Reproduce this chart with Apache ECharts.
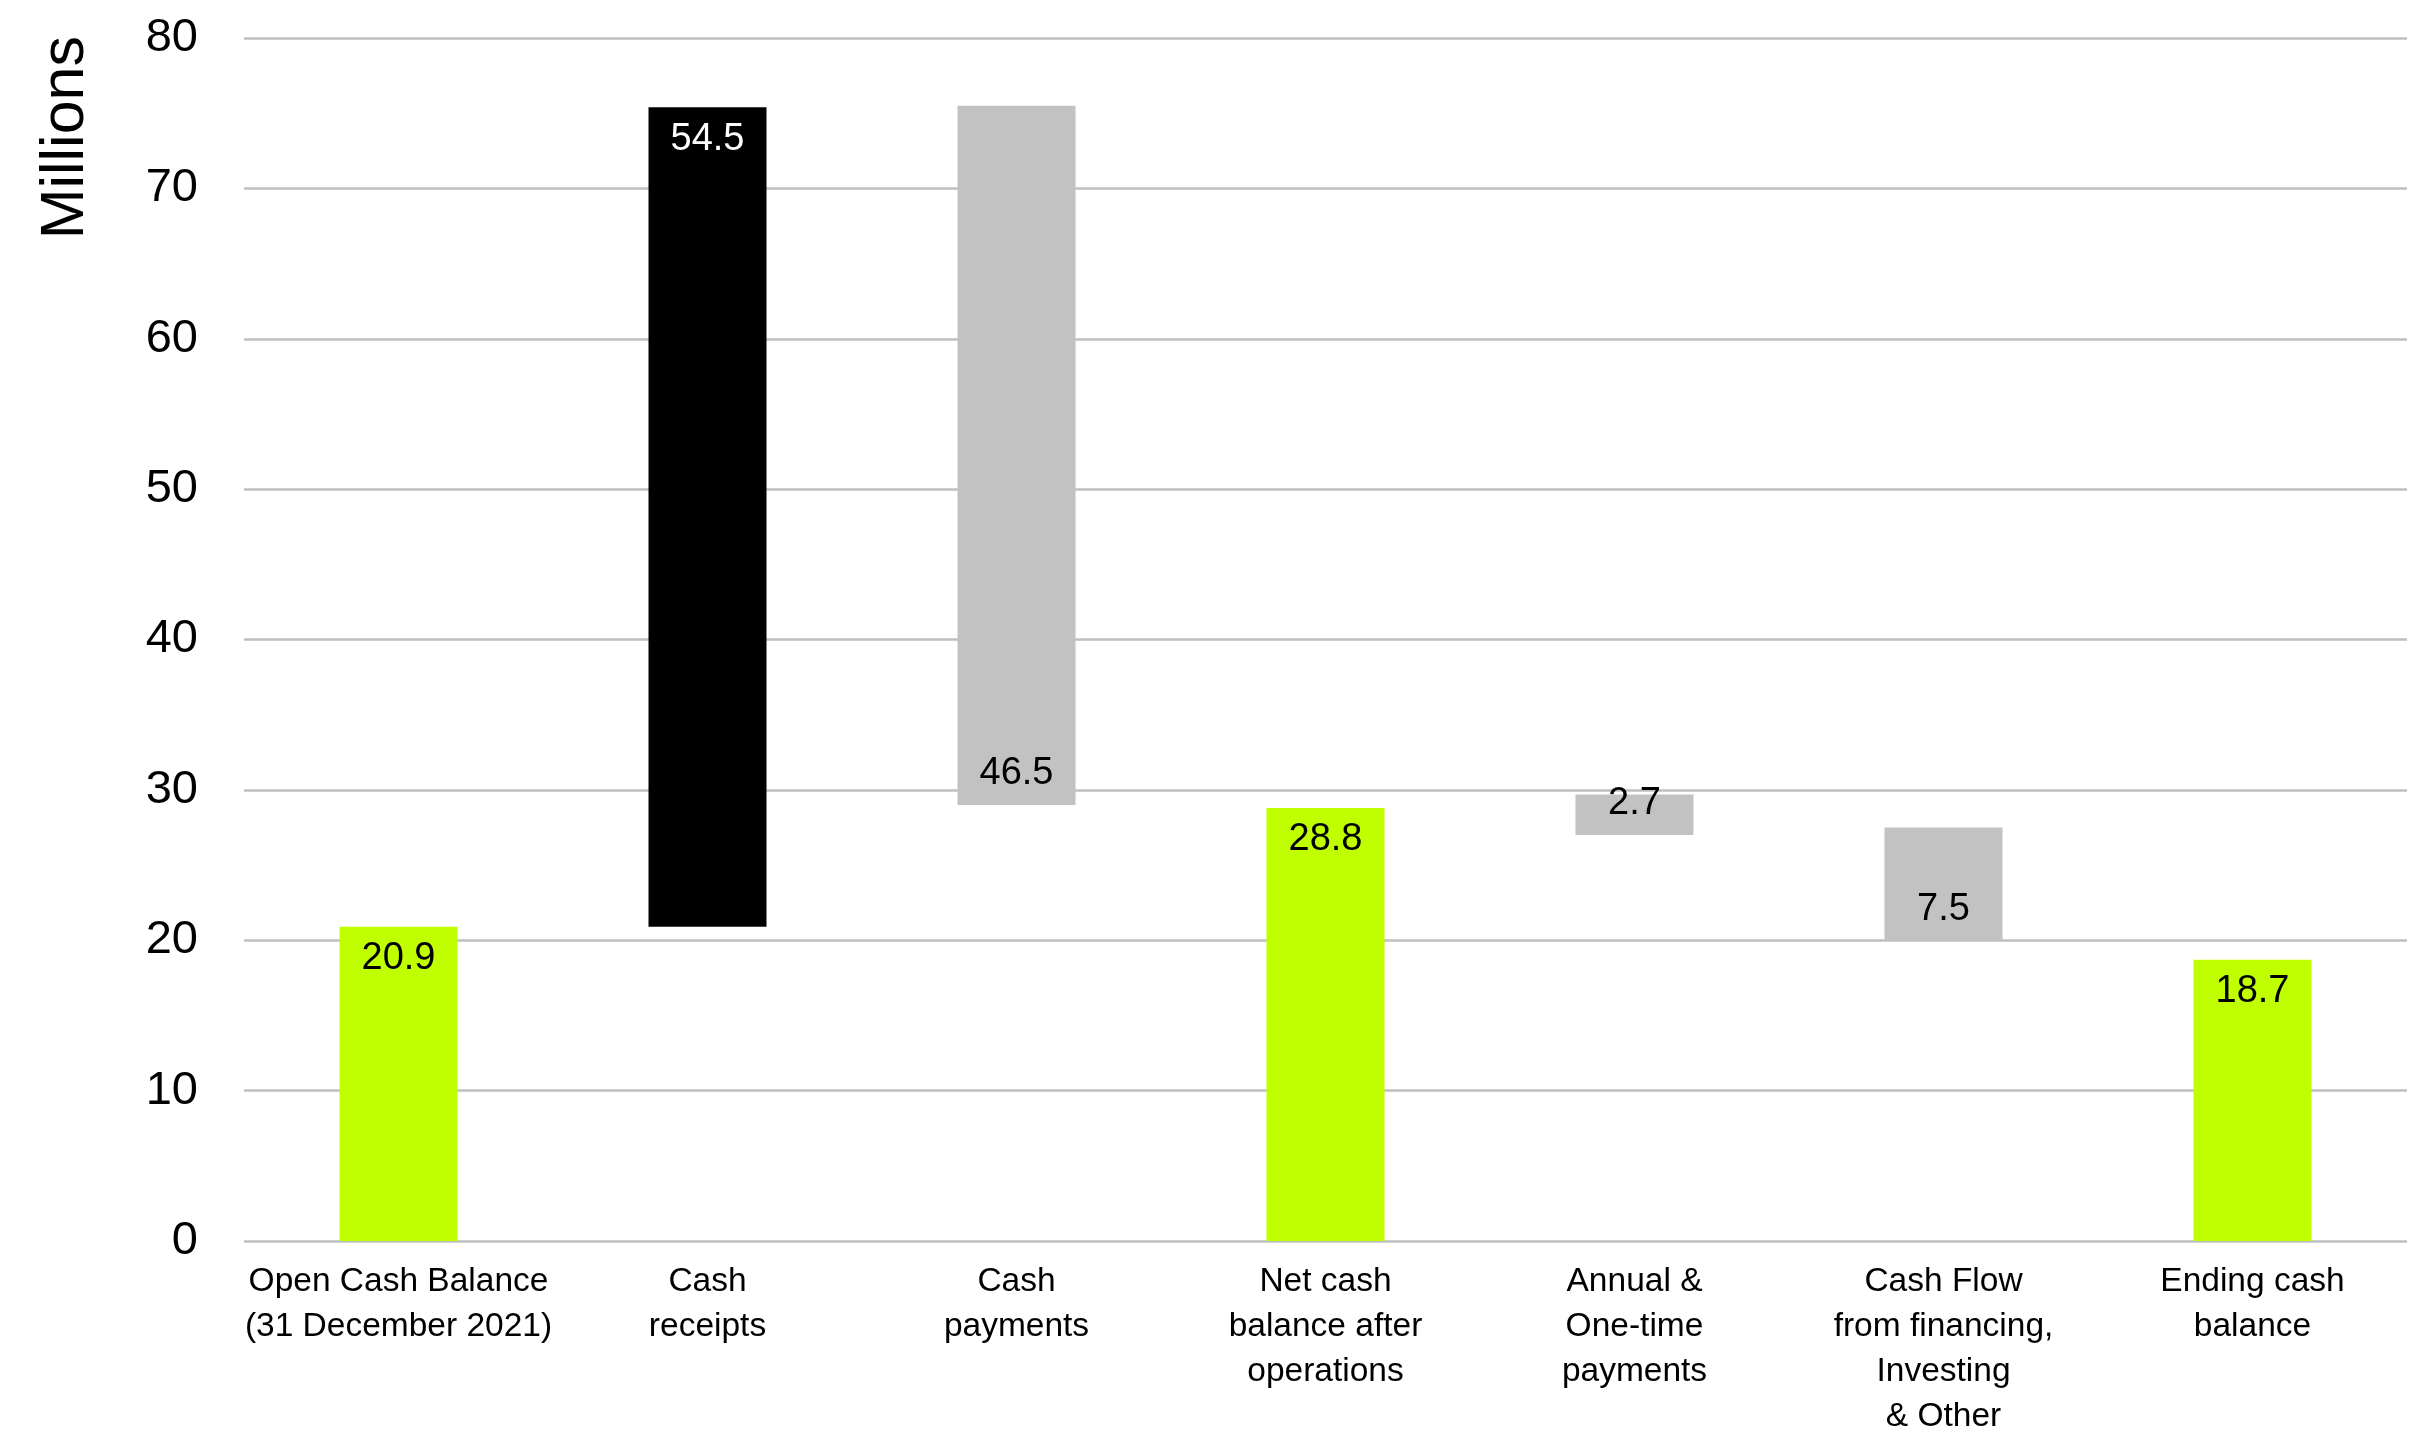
<!DOCTYPE html>
<html>
<head>
<meta charset="utf-8">
<title>Cash waterfall</title>
<script src="https://cdn.jsdelivr.net/npm/echarts/dist/echarts.min.js"></script>
<style>
  html, body { margin: 0; padding: 0; background: #fff; }
  #chart { width: 2423px; height: 1431px; }
</style>
</head>
<body>
<div id="chart"></div>
<script>
// values (millions)
const categories = [
  'Open Cash Balance\n(31 December 2021)',
  'Cash\nreceipts',
  'Cash\npayments',
  'Net cash\nbalance after\noperations',
  'Annual &\nOne-time\npayments',
  'Cash Flow\nfrom financing,\nInvesting\n& Other',
  'Ending cash\nbalance'
];
const barStart = [0, 20.9, 29.0, 0, 27.0, 20.0, 0];   // lower end of each bar
const barValue = [20.9, 54.5, 46.5, 28.8, 2.7, 7.5, 18.7];
const barKind = ['total', 'in', 'out', 'total', 'out', 'out', 'total'];
const yTicks = [0, 10, 20, 30, 40, 50, 60, 70, 80];

const FONT = "'Liberation Sans', Arial, sans-serif";
const colors = { total: '#bfff00', in: '#000000', out: '#c3c2c3' };

function labelFor(i) {
  const kind = barKind[i];
  if (kind === 'out') {
    // the small annual bar has its label riding on its top edge
    if (barValue[i] < 5) return { position: 'insideTop', distance: 0, offset: [0, -10] };
    return { position: 'insideBottom', distance: 12 };
  }
  return { position: 'insideTop', distance: 13, color: kind === 'in' ? '#fff' : '#000' };
}

const chart = echarts.init(document.getElementById('chart'));
chart.setOption({
  animation: false,
  grid: { left: 244, right: 16, top: 38, bottom: 190, containLabel: false, outerBoundsMode: 'none' },
  graphic: [{
    type: 'text',
    left: 36, top: 36,
    rotation: Math.PI / 2,
    style: { text: 'Millions', font: '61px ' + FONT, fill: '#000' }
  }],
  xAxis: {
    type: 'category',
    data: categories,
    axisLine: { show: false },
    axisTick: { show: false },
    axisLabel: {
      interval: 0, margin: 18, color: '#000',
      fontFamily: FONT, fontSize: 33.5, lineHeight: 45, align: 'center'
    }
  },
  yAxis: {
    type: 'value',
    min: yTicks[0], max: yTicks[yTicks.length - 1], interval: 10,
    axisLine: { show: false },
    axisTick: { show: false },
    axisLabel: { margin: 46, color: '#000', fontFamily: FONT, fontSize: 47 },
    splitLine: { lineStyle: { color: '#bfbfbf', width: 2.5 } }
  },
  series: [
    {
      type: 'bar', stack: 'wf', silent: true,
      barWidth: 118,
      itemStyle: { color: 'transparent' },
      data: barStart
    },
    {
      type: 'bar', stack: 'wf',
      barWidth: 118,
      data: barValue.map((v, i) => ({
        value: v,
        itemStyle: { color: colors[barKind[i]] },
        label: labelFor(i)
      })),
      label: {
        show: true, color: '#000', fontFamily: FONT, fontSize: 38,
        formatter: p => p.value.toFixed(1)
      }
    }
  ]
});
</script>
</body>
</html>
